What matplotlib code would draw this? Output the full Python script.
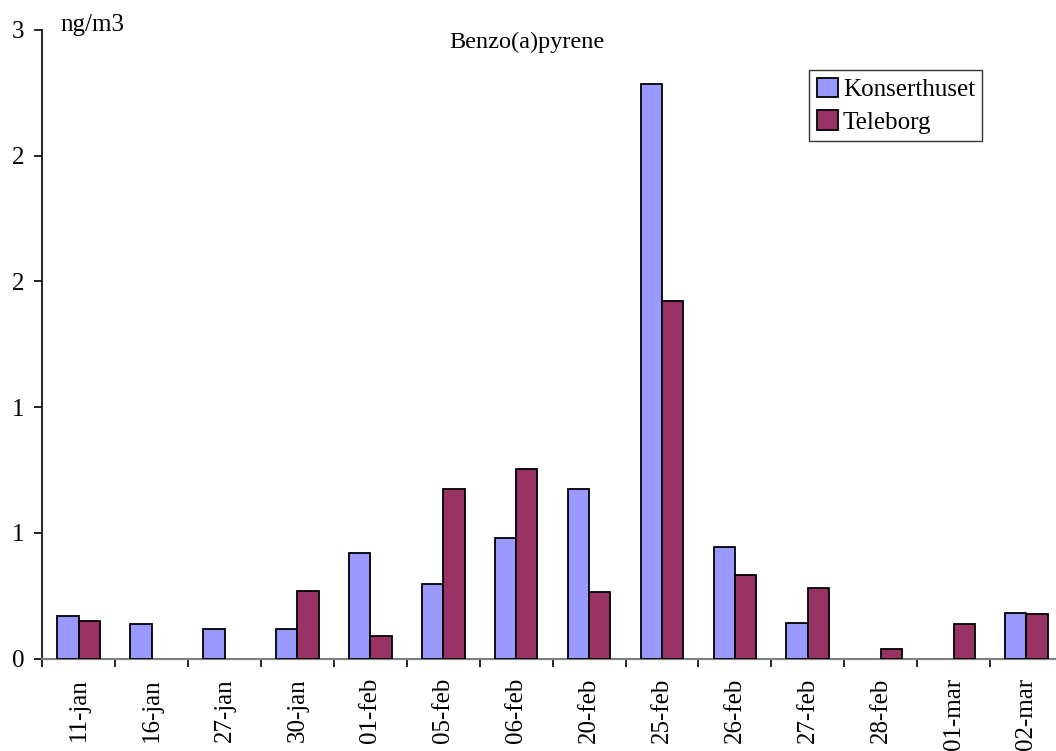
import matplotlib
matplotlib.use("Agg")
import matplotlib.pyplot as plt
from matplotlib.ticker import FixedLocator
from matplotlib.patches import Patch
import numpy as np

categories = ["11-jan", "16-jan", "27-jan", "30-jan", "01-feb", "05-feb", "06-feb",
              "20-feb", "25-feb", "26-feb", "27-feb", "28-feb", "01-mar", "02-mar"]
konserthuset = [0.169, 0.136, 0.119, 0.119, 0.419, 0.298, 0.478,
                0.675, 2.286, 0.445, 0.141, 0.0, 0.0, 0.180]
teleborg = [0.148, 0.0, 0.0, 0.270, 0.090, 0.675, 0.754,
            0.264, 1.423, 0.332, 0.282, 0.039, 0.137, 0.176]
ytick_values = [0, 0.5, 1.0, 1.5, 2.0, 2.5]
ytick_labels = ["0", "1", "1", "2", "2", "3"]

plt.rcParams['font.family'] = ['Liberation Serif', 'DejaVu Serif']

W, H = 1056, 751
fig = plt.figure(figsize=(W / 100, H / 100), dpi=100)
left = 42.3 / W
right = (42.3 + 14 * 72.9) / W
bottom = 1 - 658.5 / H
top = 1 - 30 / H
ax = fig.add_axes([left, bottom, right - left, top - bottom])

x = np.arange(len(categories)) + 0.5
bw = 0.292
for xi, k in zip(x, konserthuset):
    if k > 0:
        ax.bar(xi - bw / 2, k, width=bw, color="#9999FF", edgecolor="black", linewidth=1.3, zorder=3)
for xi, t in zip(x, teleborg):
    if t > 0:
        ax.bar(xi + bw / 2, t, width=bw, color="#993366", edgecolor="black", linewidth=1.3, zorder=3)

ax.set_xlim(0, len(categories))
ax.set_ylim(0, 2.5)

ax.xaxis.set_major_locator(FixedLocator(x))
ax.set_xticklabels(categories, rotation=90, fontsize=18)
ax.xaxis.set_minor_locator(FixedLocator(np.arange(len(categories) + 1)))
ax.tick_params(axis='x', which='major', length=0, pad=14)
ax.tick_params(axis='x', which='minor', length=6, width=1.2, color="black", direction='out')

ax.yaxis.set_major_locator(FixedLocator(ytick_values))
ax.set_yticklabels(ytick_labels, fontsize=18)
ax.tick_params(axis='y', length=6, width=1.2, color="black", direction='out', pad=7)

for s in ["top", "right"]:
    ax.spines[s].set_visible(False)
ax.spines["left"].set_color("black")
ax.spines["left"].set_linewidth(1.2)
ax.spines["bottom"].set_color("#808080")
ax.spines["bottom"].set_linewidth(1.6)

fig.text(60 / W, 1 - 31 / H, "ng/m3", fontsize=18, ha="left", va="baseline")
fig.text(527 / W, 1 - 48 / H, "Benzo(a)pyrene", fontsize=17.5, ha="center", va="baseline")

handles = [Patch(facecolor="#9999FF", edgecolor="black", linewidth=1.3, label="Konserthuset"),
           Patch(facecolor="#993366", edgecolor="black", linewidth=1.3, label="Teleborg")]
leg = fig.legend(handles=handles, loc="upper left", bbox_to_anchor=(809 / W, 1 - 70 / H),
                 fontsize=18, frameon=True, fancybox=False, shadow=False,
                 handlelength=0.85, handleheight=0.85, handletextpad=0.2,
                 borderpad=0.3, labelspacing=0.35, borderaxespad=0)
leg.get_frame().set_edgecolor("black")
leg.get_frame().set_linewidth(1.0)

fig.savefig("out.png", dpi=100)
